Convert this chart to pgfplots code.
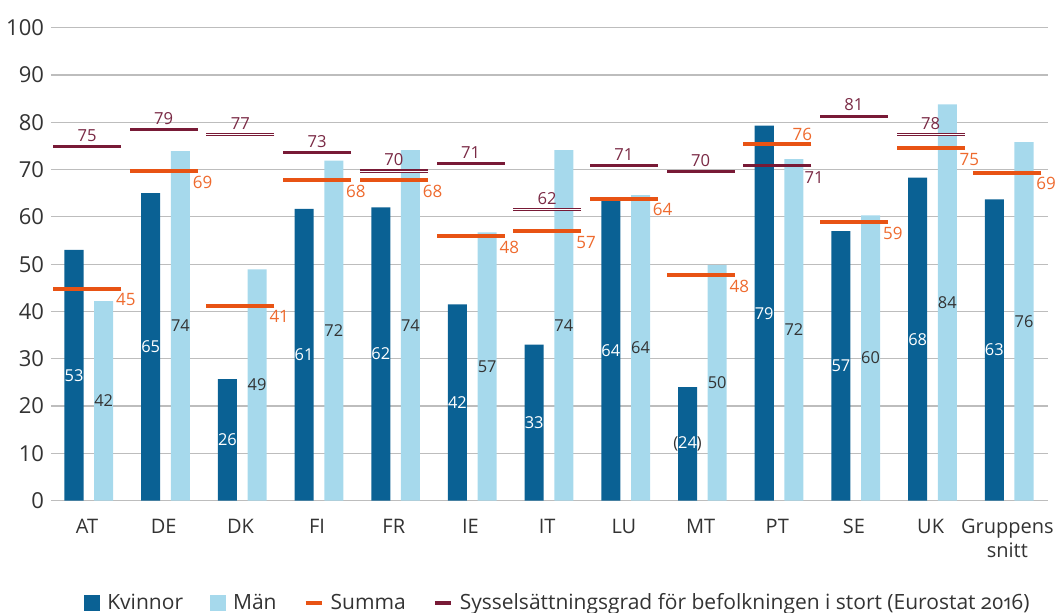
\documentclass[border=0pt]{standalone}
\usepackage{pgfplots}
\pgfplotsset{compat=1.18}
\usepackage{pgfplotstable}
\usepackage{fontspec}
\setmainfont{Open Sans}
\definecolor{kvin}{HTML}{0A6194}
\definecolor{man}{HTML}{A6D9EC}
\definecolor{summa}{HTML}{E85314}
\definecolor{summatxt}{HTML}{EE6A2E}
\definecolor{syss}{HTML}{781A36}
\definecolor{sysstxt}{HTML}{7A2A45}
\definecolor{txt}{HTML}{333333}
\definecolor{gridc}{HTML}{BDBDBD}

\pgfplotstableread{
x K M KL ML
0 53.0 42.2 53 42
1 65.0 73.9 65 74
2 25.7 48.9 26 49
3 61.7 71.9 61 72
4 62.0 74.1 62 74
5 41.5 56.7 42 57
6 33.0 74.1 33 74
7 63.6 64.6 64 64
8 24.0 49.8 \textcolor{txt}{(}24\textcolor{txt}{)} 50
9 79.3 72.2 79 72
10 57.0 60.3 57 60
11 68.3 83.8 68 84
12 63.7 75.8 63 76
}\bars

\pgfplotstableread{
x y label
0 44.8 45
1 69.6 69
2 41.2 41
3 67.7 68
4 67.7 68
5 55.9 48
6 57.0 57
7 63.8 64
8 47.7 48
10 58.9 59
11 74.5 75
12 69.3 69
}\summa

\pgfplotstableread{
x y label
9 75.5 76
}\summapt

\pgfplotstableread{
x y label
0 74.9 75
1 78.4 79
2 77.4 77
3 73.6 73
4 69.7 70
5 71.3 71
6 61.6 62
7 70.8 71
8 69.6 70
10 81.3 81
11 77.4 78
}\syss

\pgfplotstableread{
x y label
9 70.8 71
}\sysspt

\pgfplotstableread{
x y
2 77.4
4 69.7
6 61.6
11 77.4
}\syssdouble

\begin{document}
\begin{tikzpicture}
\begin{axis}[
  scale only axis,
  width=498.5pt, height=236.5pt,
  xmin=-0.47, xmax=12.53, ymin=0, ymax=100,
  clip=false,
  axis line style={draw=none},
  tick style={draw=none},
  ymajorgrids,
  major grid style={draw=gridc, line width=0.6pt},
  ytick={0,10,...,100},
  xtick={0,...,12},
  xticklabels={AT,DE,DK,FI,FR,IE,IT,LU,MT,PT,SE,UK,{Gruppens\\snitt}},
  /pgf/number format/assume math mode=true,
  yticklabel style={font=\fontsize{11}{13}\selectfont, text=txt},
  xticklabel style={font=\fontsize{10}{12.3}\selectfont, text=txt, align=center, yshift=-5.5pt},
  legend columns=4,
  legend style={at={(0.5095,-0.2163)}, anchor=center, draw=none, fill=none,
    font=\fontsize{10.5}{12}\selectfont, text=txt,
    /tikz/every odd column/.append style={column sep=1.5pt},
    /tikz/every even column/.append style={column sep=11.5pt}},
]
% bars
\addplot[ybar, bar width=0.248, bar shift=0pt, fill=kvin, draw=none,
  legend image code/.code={\fill[kvin] (0pt,-4pt) rectangle (8pt,4pt);}]
  table[x expr=\thisrow{x}-0.17, y=K] {\bars};
\addlegendentry{Kvinnor}
\addplot[ybar, bar width=0.248, bar shift=0pt, fill=man, draw=none,
  legend image code/.code={\fill[man] (0pt,-4pt) rectangle (8pt,4pt);}]
  table[x expr=\thisrow{x}+0.217, y=M] {\bars};
\addlegendentry{Män}
% Summa
\addplot[only marks, mark=-, mark size=17pt, mark options={draw=summa, line width=2pt},
  legend image code/.code={\draw[summa, line width=2pt] (0pt,0pt) -- (8pt,0pt);},
  nodes near coords, point meta=explicit symbolic,
  nodes near coords style={anchor=center, xshift=19.4pt, yshift=-5.5pt,
    font=\fontsize{8.5}{10}\selectfont, text=summatxt}]
  table[x=x, y=y, meta=label] {\summa};
\addlegendentry{Summa}
% Sysselsattningsgrad
\addplot[only marks, mark=-, mark size=17pt, mark options={draw=syss, line width=1.6pt},
  legend image code/.code={\draw[syss, line width=2pt] (0pt,0pt) -- (8pt,0pt);},
  nodes near coords, point meta=explicit symbolic,
  nodes near coords style={anchor=center, xshift=0pt, yshift=5.6pt,
    font=\fontsize{8.3}{10}\selectfont, text=sysstxt}]
  table[x=x, y=y, meta=label] {\syss};
\addlegendentry{Sysselsättningsgrad för befolkningen i stort (Eurostat {\addfontfeature{Numbers=OldStyle}2016})}
\addplot[forget plot, only marks, mark=-, mark size=17pt, mark options={draw=white, line width=0.5pt}]
  table[x=x, y=y] {\syssdouble};
\addplot[forget plot, only marks, mark=-, mark size=17pt, mark options={draw=summa, line width=2pt},
  nodes near coords, point meta=explicit symbolic,
  nodes near coords style={anchor=center, xshift=12.5pt, yshift=4.7pt,
    font=\fontsize{8.5}{10}\selectfont, text=summatxt}]
  table[x=x, y=y, meta=label] {\summapt};
\addplot[forget plot, only marks, mark=-, mark size=17pt, mark options={draw=syss, line width=1.6pt},
  nodes near coords, point meta=explicit symbolic,
  nodes near coords style={anchor=center, xshift=18.4pt, yshift=-5.7pt,
    font=\fontsize{8.3}{10}\selectfont, text=sysstxt}]
  table[x=x, y=y, meta=label] {\sysspt};
% bar labels
\addplot[forget plot, draw=none, mark=none, nodes near coords, point meta=explicit symbolic,
  nodes near coords style={anchor=center, font=\fontsize{8.2}{10}\selectfont, text=white}]
  table[x expr=\thisrow{x}-0.17, y expr=\thisrow{K}/2, meta=KL] {\bars};
\addplot[forget plot, draw=none, mark=none, nodes near coords, point meta=explicit symbolic,
  nodes near coords style={anchor=center, font=\fontsize{8.2}{10}\selectfont, text=txt}]
  table[x expr=\thisrow{x}+0.217, y expr=\thisrow{M}/2, meta=ML] {\bars};
\end{axis}
\pgfresetboundingbox
\path[use as bounding box] (-25.5pt,-56.15pt) rectangle (502.5pt,250.35pt);
\end{tikzpicture}
\end{document}
